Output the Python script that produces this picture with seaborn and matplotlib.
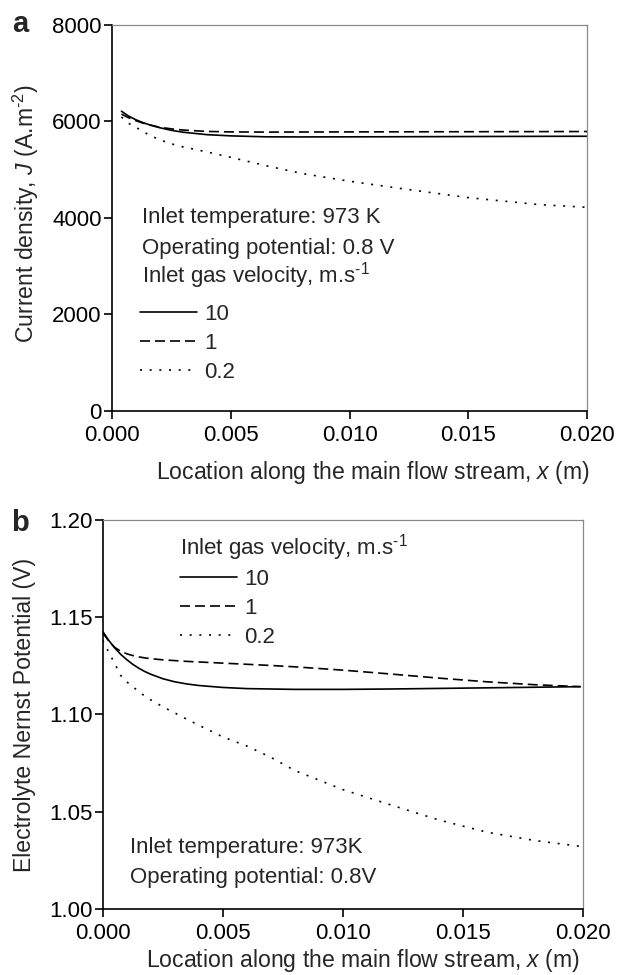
import numpy as np
import pandas as pd
import matplotlib
matplotlib.use("Agg")
import matplotlib.pyplot as plt
from matplotlib.ticker import FormatStrFormatter, MultipleLocator
import seaborn as sns

# ---- panel (a): current density along the channel ----
xa = [0.0004, 0.0007, 0.001, 0.0013, 0.0016, 0.002, 0.0025, 0.003, 0.004, 0.005,
      0.0065, 0.008, 0.010, 0.012, 0.015, 0.018, 0.020]
ja_v10 = [6210, 6110, 6035, 5975, 5925, 5870, 5815, 5775, 5725, 5700,
          5680, 5678, 5680, 5682, 5686, 5690, 5692]
ja_v1 = [6150, 6075, 6015, 5965, 5925, 5880, 5845, 5820, 5792, 5782,
         5778, 5780, 5782, 5784, 5786, 5788, 5790]
ja_v02 = [6090, 5960, 5880, 5790, 5710, 5620, 5535, 5470, 5367, 5255,
          5080, 4920, 4760, 4620, 4420, 4275, 4220]

# ---- panel (b): electrolyte Nernst potential along the channel ----
xb = [0.0, 0.00025, 0.0005, 0.00075, 0.001, 0.00125, 0.0015, 0.00175, 0.002,
      0.0025, 0.003, 0.0035, 0.004, 0.005, 0.006, 0.007, 0.008, 0.010,
      0.012, 0.014, 0.016, 0.018, 0.0199]
eb_v10 = [1.1427, 1.1381, 1.1342, 1.1309, 1.1282, 1.1258, 1.1238, 1.1221, 1.1207,
          1.1184, 1.1168, 1.1157, 1.1149, 1.1139, 1.1133, 1.1131, 1.1129, 1.1129,
          1.1131, 1.1134, 1.1137, 1.1140, 1.1143]
eb_v1 = [1.1420, 1.1378, 1.1345, 1.1325, 1.1312, 1.1303, 1.1296, 1.1291, 1.1287,
         1.1281, 1.1277, 1.1273, 1.1270, 1.1264, 1.1258, 1.1252, 1.1245, 1.1228,
         1.1208, 1.1187, 1.1168, 1.1153, 1.1143]
eb_v02 = [1.1380, 1.1320, 1.1262, 1.1200, 1.1168, 1.1143, 1.1118, 1.1095, 1.1075,
          1.1040, 1.1008, 1.0976, 1.0945, 1.0885, 1.0838, 1.0780, 1.0712, 1.0614,
          1.0535, 1.0458, 1.0395, 1.0352, 1.0322]

velocities = ["10", "1", "0.2"]

def long_frame(x, series, col):
    parts = []
    for lab, vals in zip(velocities, series):
        parts.append(pd.DataFrame({"x": x, col: vals, "velocity": lab}))
    return pd.concat(parts, ignore_index=True)

df_a = long_frame(xa, [ja_v10, ja_v1, ja_v02], "J")
df_b = long_frame(xb, [eb_v10, eb_v1, eb_v02], "E")

sns.set_style("ticks")
plt.rcParams["font.family"] = ["Liberation Sans", "DejaVu Sans"]
plt.rcParams["mathtext.fontset"] = "custom"
plt.rcParams["mathtext.rm"] = "Liberation Sans"
plt.rcParams["mathtext.it"] = "Liberation Sans:italic"
plt.rcParams["mathtext.bf"] = "Liberation Sans:bold"

FS_TICK = 16
FS_TEXT = 16
FS_LABEL = 16.6
dash_styles = {"10": "", "1": (6, 3), "0.2": (1.2, 4.6)}
vel_title = "Inlet gas velocity, m.s$^{\u2010 1}$"

fig = plt.figure(figsize=(6.17, 9.75), dpi=100)
ax_a = fig.add_axes([0.1815, 0.5785, 0.770, 0.396])
ax_b = fig.add_axes([0.1665, 0.0677, 0.778, 0.399])

for ax, df, ycol in [(ax_a, df_a, "J"), (ax_b, df_b, "E")]:
    sns.lineplot(data=df, x="x", y=ycol, style="velocity", style_order=velocities,
                 dashes=dash_styles, color="black", linewidth=1.2, ax=ax,
                 legend=True, estimator=None, sort=False)
    ax.set_xlim(0, 0.020)
    ax.xaxis.set_major_locator(MultipleLocator(0.005))
    ax.xaxis.set_major_formatter(FormatStrFormatter("%.3f"))
    ax.tick_params(axis="x", which="major", direction="out", length=6,
                   width=1.2, colors="black", labelsize=FS_TICK, pad=4)
    ax.tick_params(axis="y", which="major", direction="out", length=6,
                   width=1.2, colors="black", labelsize=FS_TICK, pad=1.5)
    for side in ["left", "bottom"]:
        ax.spines[side].set_color("black")
        ax.spines[side].set_linewidth(1.2)
    for side in ["top", "right"]:
        ax.spines[side].set_visible(True)
        ax.spines[side].set_color("#8a8a8a")
        ax.spines[side].set_linewidth(0.9)
    ax.set_xlabel("Location along the main flow stream, $x$ (m)", fontsize=FS_LABEL)

# axis ranges and labels
ax_a.set_ylim(0, 8000)
ax_a.yaxis.set_major_locator(MultipleLocator(2000))
ax_a.set_ylabel("Current density, $J$ (A.m$^{\u2010 2}$)", fontsize=FS_LABEL)
ax_a.yaxis.set_label_coords(-0.150, 0.51)
ax_a.xaxis.set_label_coords(0.55, -0.125)

ax_b.set_ylim(1.00, 1.20)
ax_b.yaxis.set_major_locator(MultipleLocator(0.05))
ax_b.yaxis.set_major_formatter(FormatStrFormatter("%.2f"))
ax_b.set_ylabel("Electrolyte Nernst Potential (V)", fontsize=FS_LABEL)
ax_b.yaxis.set_label_coords(-0.140, 0.50)
ax_b.xaxis.set_label_coords(0.542, -0.098)

# legends (title drawn as its own text line above the entries)
leg_kw = dict(frameon=False, fontsize=FS_TEXT, handlelength=2.6,
              handletextpad=0.3, labelspacing=0.36, borderpad=0, borderaxespad=0)
h, l = ax_a.get_legend_handles_labels()
ax_a.legend(h, l, loc="upper left", bbox_to_anchor=(0.058, 0.278), **leg_kw)
ax_a.text(0.0625, 0.350, vel_title, transform=ax_a.transAxes,
          fontsize=FS_TEXT, va="center", ha="left")
h, l = ax_b.get_legend_handles_labels()
ax_b.legend(h, l, loc="upper left", bbox_to_anchor=(0.160, 0.874), **leg_kw)
ax_b.text(0.161, 0.930, vel_title, transform=ax_b.transAxes,
          fontsize=FS_TEXT, va="center", ha="left")

# operating conditions
ax_a.text(0.0625, 0.500, "Inlet temperature: 973 K", transform=ax_a.transAxes,
          fontsize=FS_TEXT, va="center", ha="left")
ax_a.text(0.0625, 0.422, "Operating potential: 0.8 V", transform=ax_a.transAxes,
          fontsize=FS_TEXT, va="center", ha="left")
ax_b.text(0.057, 0.157, "Inlet temperature: 973K", transform=ax_b.transAxes,
          fontsize=FS_TEXT, va="center", ha="left")
ax_b.text(0.057, 0.080, "Operating potential: 0.8V", transform=ax_b.transAxes,
          fontsize=FS_TEXT, va="center", ha="left")

# panel letters
fig.text(0.019, 0.9669, "a", fontsize=21, fontweight="bold", va="baseline", ha="left")
fig.text(0.018, 0.4554, "b", fontsize=21, fontweight="bold", va="baseline", ha="left")

fig.savefig("out.png", dpi=100)
